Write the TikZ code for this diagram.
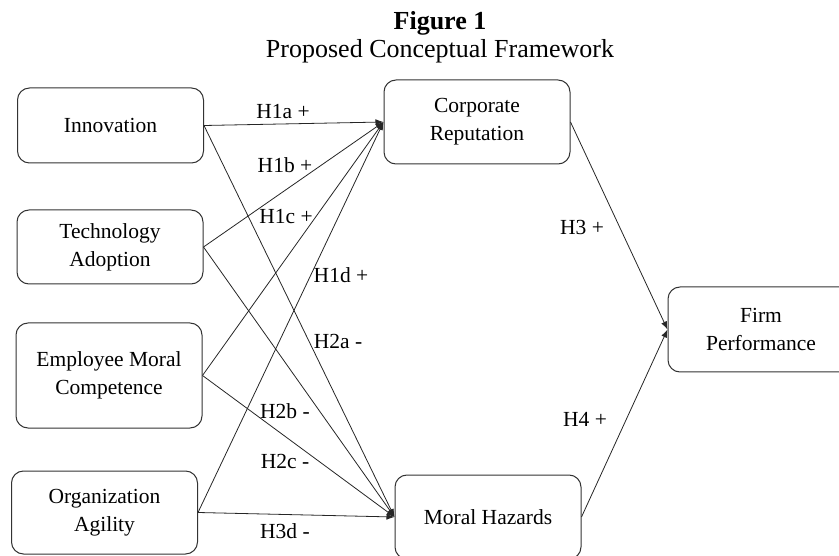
\documentclass[tikz,border=0pt]{standalone}
\usepackage{fontspec}
\setmainfont{Liberation Serif}
\usetikzlibrary{arrows.meta}

\begin{document}
\begin{tikzpicture}[x=1pt,y=-1pt,
    box/.style={draw=black!80,line width=1pt,rounded corners=12pt,align=center,
      minimum width=186pt,inner sep=0pt,font=\fontsize{21.5}{28}\selectfont},
    hyp/.style={inner sep=0pt,font=\fontsize{21.5}{26}\selectfont},
    link/.style={draw=black!85,line width=0.8pt,-{Latex[length=8pt,width=6pt]}}]
    \useasboundingbox (0,0) rectangle (839,556);
    \clip (0,0) rectangle (839,556);
    \node [anchor=base,font=\fontsize{26}{30}\selectfont\bfseries] (fig) at (440,30) {Figure 1};
    \node [anchor=base,font=\fontsize{26}{30}\selectfont] (title) at (440,58) {Proposed Conceptual Framework};
    \node [box,minimum height=75pt] (inno) at (110.5,125.5) {Innovation};
    \node [box,minimum height=74pt] (tech) at (110,247) {Technology\\Adoption};
    \node [box,minimum height=105pt] (emc) at (109,375.5) {Employee Moral\\Competence};
    \node [box,minimum height=83pt] (agil) at (104.5,512.5) {Organization\\Agility};
    \node [box,minimum height=84pt] (corp) at (477,122) {Corporate\\Reputation};
    \node [box,minimum height=84pt] (hazard) at (488,517) {Moral Hazards};
    \node [box,minimum height=85pt] (perf) at (761,329.5) {Firm\\Performance};
      \draw [link] (inno.east) -- (corp.west);
      \draw [link] (tech.east) -- (corp.west);
      \draw [link] (emc.east) -- (corp.west);
      \draw [link] (agil.east) -- (corp.west);
      \draw [link] (inno.east) -- (hazard.west);
      \draw [link] (tech.east) -- (hazard.west);
      \draw [link] (emc.east) -- (hazard.west);
      \draw [link] (agil.east) -- (hazard.west);
      \draw [link] (corp.east) -- (perf.west);
      \draw [link] (hazard.east) -- (perf.west);
      \node [hyp] (h1a) at (283,112) {H1a +};
      \node [hyp] (h1b) at (285,165) {H1b +};
      \node [hyp] (h1c) at (286,217) {H1c +};
      \node [hyp] (h1d) at (341,275) {H1d +};
      \node [hyp] (h2a) at (338,341) {H2a -};
      \node [hyp] (h2b) at (285,411) {H2b -};
      \node [hyp] (h2c) at (285,461) {H2c -};
      \node [hyp] (h3d) at (285,531) {H3d -};
      \node [hyp] (h3) at (582,227) {H3 +};
      \node [hyp] (h4) at (585,419) {H4 +};
  \end{tikzpicture}
\end{document}
